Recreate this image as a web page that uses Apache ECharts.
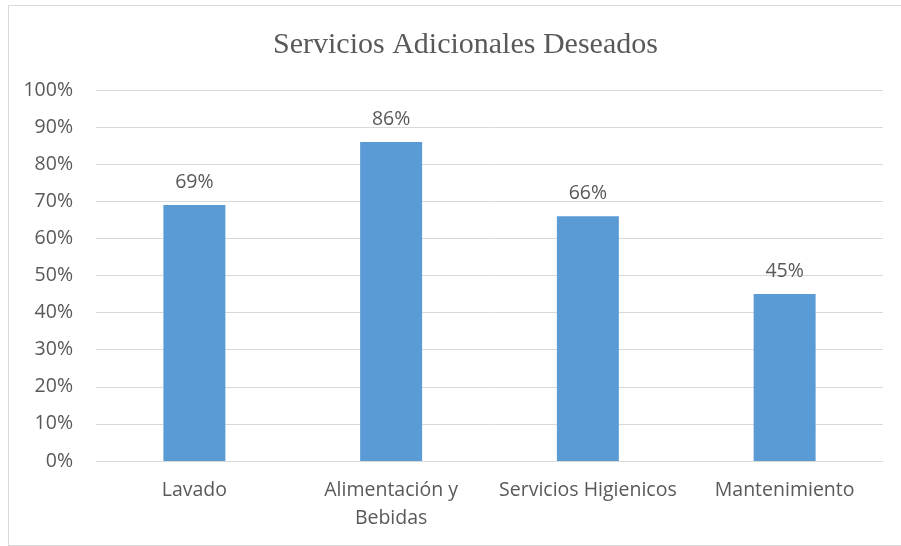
<!DOCTYPE html>
<html>
<head>
<meta charset="utf-8">
<script src="https://cdn.jsdelivr.net/npm/echarts@6/dist/echarts.min.js"></script>
<style>
  html, body { margin: 0; padding: 0; background: #fff; }
  #chart { width: 901px; height: 546px; }
  #frame { position: absolute; left: 8px; top: 5px; width: 900px; height: 539px; border: 1px solid #d9d9d9; pointer-events: none; }
</style>
</head>
<body>
<div id="chart"></div>
<div id="frame"></div>
<script>
// Services requested by respondents (share, %)
const categories = ['Lavado', 'Alimentación y\nBebidas', 'Servicios Higienicos', 'Mantenimiento'];
const values = [69, 86, 66, 45];
const yTicks = [0, 10, 20, 30, 40, 50, 60, 70, 80, 90, 100];

const chart = echarts.init(document.getElementById('chart'), null, { renderer: 'canvas' });
const textColor = '#595959';
const font = 'Open Sans, Liberation Sans, sans-serif';

chart.setOption({
  animation: false,
  title: {
    text: 'Servicios Adicionales Deseados',
    left: 268,
    top: 25,
    textStyle: { fontFamily: 'Liberation Serif, serif', fontWeight: 'normal', fontSize: 30, color: textColor }
  },
  grid: { left: 96, right: 18, top: 90, bottom: 85, containLabel: false },
  xAxis: {
    type: 'category',
    data: categories,
    axisLine: { show: true, lineStyle: { color: '#d9d9d9', width: 1 } },
    axisTick: { show: false },
    axisLabel: { color: textColor, fontFamily: font, fontSize: 19.5, margin: 15, lineHeight: 28, interval: 0 }
  },
  yAxis: {
    type: 'value',
    min: yTicks[0],
    max: yTicks[yTicks.length - 1],
    interval: 10,
    axisLine: { show: false },
    axisTick: { show: false },
    splitLine: { lineStyle: { color: '#d9d9d9', width: 1 } },
    axisLabel: { color: textColor, fontFamily: font, fontSize: 19.5, margin: 23, formatter: v => v + '%' }
  },
  series: [{
    type: 'bar',
    data: values,
    barWidth: '31.5%',
    itemStyle: { color: '#5b9bd5' },
    label: {
      show: true,
      position: 'top',
      distance: 13,
      color: textColor,
      fontFamily: font,
      fontSize: 19.5,
      formatter: p => p.value + '%'
    }
  }]
});
</script>
</body>
</html>
